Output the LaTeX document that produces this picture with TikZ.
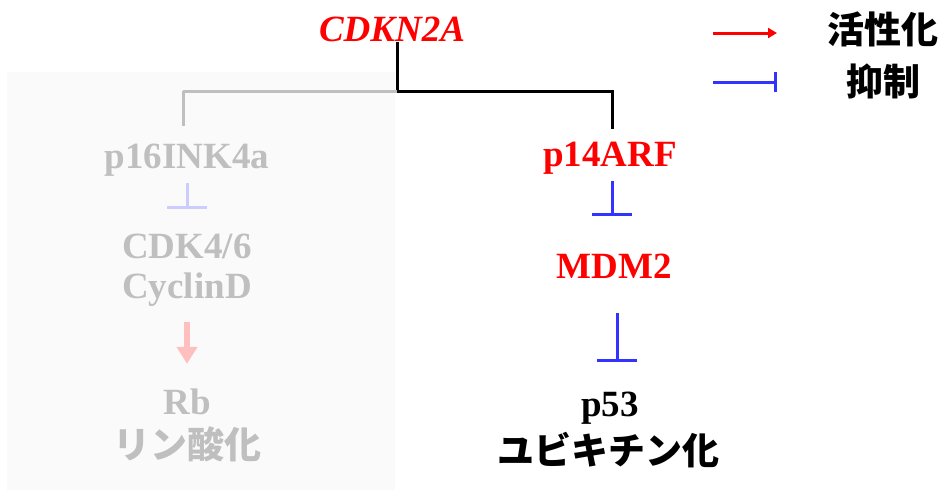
\documentclass[tikz,border=0pt]{standalone}
\usepackage{fontspec}
\setmainfont{Liberation Serif}
\newfontfamily\cjk{Noto Sans CJK JP}
\usetikzlibrary{arrows.meta}
\definecolor{actred}{HTML}{FF0000}
\definecolor{inhblue}{HTML}{3333FF}
\definecolor{fadetext}{HTML}{BFBFBF}
\definecolor{fadeblue}{HTML}{CCCCFF}
\definecolor{fadered}{HTML}{FFBFBF}
\definecolor{panelgray}{HTML}{FAFAFA}
\tikzset{
  lbl/.style={inner sep=0pt, font=\fontsize{37}{40}\selectfont\bfseries},
  jlbl/.style={inner sep=0pt, font=\fontsize{37}{40}\selectfont\cjk\bfseries},
  trunk/.style={line width=3pt, black},
  fadetrunk/.style={line width=3pt, fadetext},
  inh/.style={line width=3pt, inhblue, -{Bar[width=40pt,line width=3pt]}},
  fadeinh/.style={line width=3pt, fadeblue, -{Bar[width=40pt,line width=3pt]}},
  fadeact/.style={line width=6pt, fadered, -{Triangle[width=20pt,length=17pt]}},
}
\begin{document}
\begin{tikzpicture}[x=1pt,y=-1pt]
\useasboundingbox (0,0) rectangle (944,490);
\fill[panelgray] (7,72) rectangle (395,490);

% nodes
\node[lbl, text=actred, font=\fontsize{37}{40}\selectfont\bfseries\itshape] (cdkn) at (392,29) {CDKN2A};
\node[lbl, text=fadetext] (p16) at (187,160) {p16INK4a};
\node[lbl, text=fadetext] (cdk) at (187,246) {CDK4/6};
\node[lbl, text=fadetext] (cyc) at (187,290) {CyclinD};
\node[lbl, text=fadetext] (rb) at (187,402) {Rb};
\node[jlbl, text=fadetext] (rin) at (187,444) {リン酸化};
\node[lbl, text=actred] (p14) at (610,158) {p14ARF};
\node[lbl, text=actred] (mdm) at (614,266) {MDM2};
\node[lbl, text=black] (p53) at (610,408) {p53};
\node[jlbl, text=black] (ubi) at (608,450) {ユビキチン化};
\node[jlbl, text=black] (leg1) at (883,29) {活性化};
\node[jlbl, text=black] (leg2) at (883,81) {抑制};

% branching
\coordinate (split) at (397,91);
\coordinate (lsplit) at (183,91);
\draw[trunk] (split |- cdkn.south) -- (split);
\draw[trunk] (split) -| ([xshift=2pt,yshift=13pt]p14.north);
\draw[fadetrunk] (split) -- (lsplit);
\draw[fadetrunk, shorten >=18pt] (lsplit) -- (lsplit |- p16.north);

% relations
\draw[fadeinh, shorten <=7pt, shorten >=24pt] (p16.south) -- (p16.south |- cdk.north);
\draw[fadeact, shorten <=15pt, shorten >=25pt] (cyc.south) -- (cyc.south |- rb.north);
\draw[inh, shorten <=7pt, shorten >=38pt] ([xshift=2pt]p14.south) -- ([xshift=2pt]p14.south |- mdm.north);
\draw[inh, shorten <=35pt, shorten >=30pt] ([xshift=3pt]mdm.south) -- ([xshift=3pt]mdm.south |- p53.north);

% legend
\coordinate (a1) at (713,33);
\coordinate (a2) at (777,33);
\coordinate (b1) at (713,82);
\coordinate (b2) at (777,82);
\draw[line width=3pt, actred, -{Triangle[width=10pt,length=9pt]}] (a1) -- (a2);
\draw[line width=3pt, inhblue, -{Bar[width=20pt,line width=3pt]}] (b1) -- (b2);
\end{tikzpicture}
\end{document}
